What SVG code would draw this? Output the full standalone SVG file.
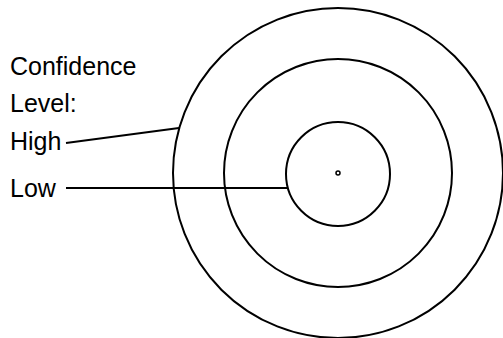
<svg xmlns="http://www.w3.org/2000/svg" width="503" height="338" viewBox="0 0 503 338">
<style>
.ring{fill:none;stroke:#000;stroke-width:2}
.lbl{font-family:"Liberation Sans",Arial,sans-serif;font-size:25px;fill:#000}
.conn{stroke:#000;stroke-width:2;fill:none}
</style>
<rect width="503" height="338" fill="#fff"/>
<g id="outer"><circle class="ring" cx="338" cy="173" r="165"/></g>
<g id="middle"><circle class="ring" cx="338" cy="173" r="114"/></g>
<g id="inner"><circle class="ring" cx="338" cy="174" r="52"/></g>
<g id="center"><circle cx="338" cy="173" r="2" fill="none" stroke="#000" stroke-width="1.5"/></g>
<g id="title"><text class="lbl" x="10" y="75">Confidence</text><text class="lbl" x="10" y="112">Level:</text></g>
<g id="high"><text class="lbl" x="10" y="150">High</text></g>
<g id="low"><text class="lbl" x="10" y="197">Low</text></g>
<g id="connectors">
<line class="conn" x1="66" y1="143" x2="179" y2="128"/>
<line class="conn" x1="66" y1="188" x2="287" y2="188"/>
</g>
</svg>
